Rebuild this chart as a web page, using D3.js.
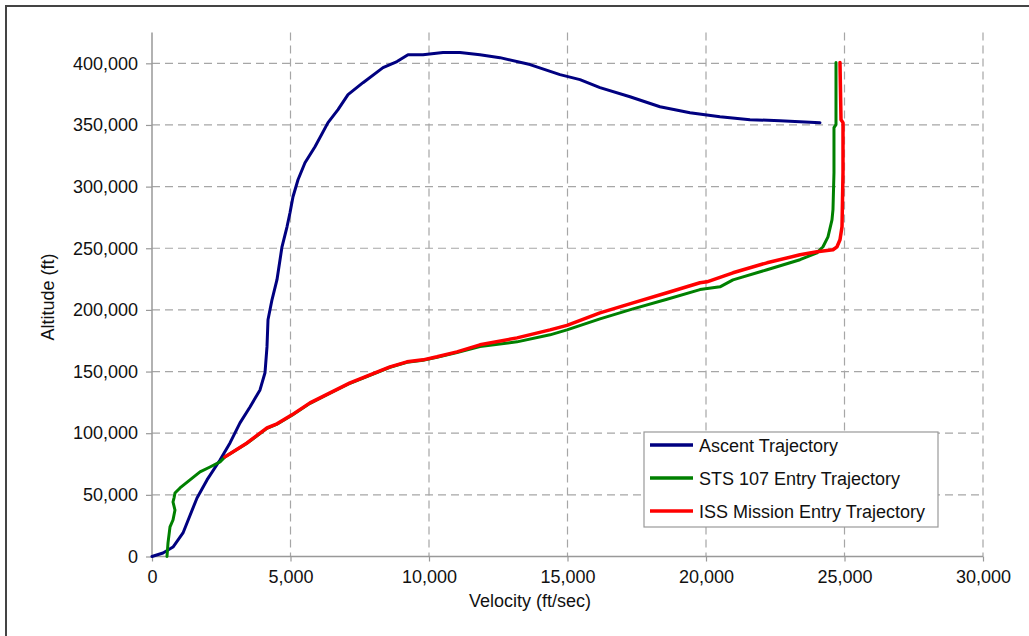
<!DOCTYPE html>
<html>
<head>
<meta charset="utf-8">
<script src="https://cdn.jsdelivr.net/npm/d3@7"></script>
<style>
  html, body { margin: 0; padding: 0; background: #fff; }
  svg { display: block; font-family: "Liberation Sans", Arial, sans-serif; }
</style>
</head>
<body>
<svg id="chart" width="1029" height="636"></svg>
<script>
// ---- data (velocity ft/sec, altitude ft) ----
const seriesNames = ["Ascent Trajectory", "STS 107 Entry Trajectory", "ISS Mission Entry Trajectory"];
const seriesColors = ["#000080", "#008000", "#ff0000"];

const ascent = [
  [0,0],[397,2840],[758,7700],[1119,19100],[1625,47500],[1986,62100],[2455,78300],
  [2816,92100],[3177,108400],[3538,121300],[3899,135100],[4079,149000],[4151,170000],
  [4188,192000],[4332,208200],[4512,224500],[4693,251200],[4874,267400],[4982,278800],
  [5090,291800],[5271,305600],[5523,319400],[5884,332400],[6354,351900],[6715,362400],
  [7076,374600],[7617,384300],[8339,396500],[8845,401400],[9242,407000],[9783,407000],
  [10505,408700],[11119,408700],[11840,407000],[12563,404600],[13646,399000],
  [14729,390800],[15451,386800],[16173,380300],[17256,372900],[18339,364800],
  [19422,359900],[20505,356700],[21588,354300],[22671,353400],[24115,351800]
];

const sts107 = [
  [541,0],[578,11000],[650,24000],[758,29600],[830,37700],[758,44200],[800,48000],
  [830,51500],[1011,55600],[1372,62100],[1733,68600],[2094,72600],[2455,76700],
  [2635,80800],[3430,91800],[4151,103900],[4512,107300],[5054,114500],[5704,124200],
  [6426,132400],[7148,140500],[7870,147000],[8592,153500],[9206,157600],[9783,159200],
  [10288,161600],[11010,165500],[11840,170300],[13177,174100],[14368,179800],
  [14982,183800],[16173,192700],[17365,200800],[18592,208600],[19783,216500],
  [20505,218700],[20974,224400],[22202,232600],[23393,240700],[24007,246300],
  [24224,251200],[24404,259300],[24548,273100],[24584,281300],[24620,311300],
  [24620,347800],[24693,350300],[24693,400600]
];

const issEntry = [
  [2635,80800],[3430,92100],[4151,104300],[4512,107600],[5054,114900],[5704,124600],
  [6426,132700],[7148,140800],[7870,147300],[8592,153800],[9206,157900],[9783,159500],
  [10288,162000],[11010,166000],[11840,171700],[13177,177300],[14368,183800],
  [14982,187500],[16173,197600],[17365,205700],[18592,213900],[19783,222000],
  [20036,222800],[20974,230100],[22202,238200],[23393,244700],[24007,247200],
  [24584,248800],[24729,251200],[24837,256900],[24910,267400],[24946,311300],
  [24946,351900],[24874,354300],[24837,400600]
];

const xTicks = [0, 5000, 10000, 15000, 20000, 25000, 30000];
const yTicks = [0, 50000, 100000, 150000, 200000, 250000, 300000, 350000, 400000];
const xTitle = "Velocity (ft/sec)";
const yTitle = "Altitude (ft)";

// ---- drawing ----
const svg = d3.select("#chart");
const fmt = d3.format(",");

const x = d3.scaleLinear().domain([0, 30000]).range([152, 983]);
const y = d3.scaleLinear().domain([0, 425000]).range([556.5, 32.5]);

// outer frame
svg.append("rect")
  .attr("x", 6).attr("y", 6).attr("width", 1100).attr("height", 700)
  .attr("fill", "none").attr("stroke", "#444").attr("stroke-width", 2);

const grid = svg.append("g");
// horizontal dashed gridlines
grid.selectAll("line.h").data(yTicks.filter(d => d > 0)).join("line")
  .attr("x1", x(0)).attr("x2", x(30000))
  .attr("y1", d => y(d)).attr("y2", d => y(d))
  .attr("stroke", "#a6a6a6").attr("stroke-width", 1.2).attr("stroke-dasharray", "8,5");
// vertical dashed gridlines
grid.selectAll("line.v").data(xTicks.filter(d => d > 0)).join("line")
  .attr("x1", d => x(d)).attr("x2", d => x(d))
  .attr("y1", y(425000)).attr("y2", y(0))
  .attr("stroke", "#a6a6a6").attr("stroke-width", 1.2).attr("stroke-dasharray", "8,5");

// axes
const xAxis = d3.axisBottom(x).tickValues(xTicks).tickFormat(fmt).tickSize(5).tickPadding(9);
const yAxis = d3.axisLeft(y).tickValues(yTicks).tickFormat(fmt).tickSize(6).tickPadding(8);

const gx = svg.append("g").attr("transform", `translate(0,${y(0)})`).call(xAxis);
const gy = svg.append("g").attr("transform", `translate(${x(0)},0)`).call(yAxis);
gy.select(".domain").attr("d", `M0,${y(425000)}V${y(0)}`);
gx.select(".domain").attr("d", `M${x(0)},0H${x(30000)}`);
[gx, gy].forEach(g => {
  g.select(".domain").attr("stroke", "#999").attr("stroke-width", 1.5);
  g.selectAll(".tick line").attr("stroke", "#999").attr("stroke-width", 1.2);
  g.selectAll(".tick text").attr("fill", "#111").style("font-size", "18px")
    .style("font-family", "'Liberation Sans', Arial, sans-serif");
});

// axis titles
svg.append("text").attr("x", 530).attr("y", 607).attr("text-anchor", "middle")
  .attr("fill", "#111").style("font-size", "18px").text(xTitle);
svg.append("text").attr("transform", "translate(54,297) rotate(-90)").attr("text-anchor", "middle")
  .attr("fill", "#111").style("font-size", "18px").text(yTitle);

// lines
const line = d3.line().x(d => x(d[0])).y(d => y(d[1]));
const allSeries = [ascent, sts107, issEntry];
const widths = [3, 3, 3.5];
svg.append("g").selectAll("path").data(allSeries).join("path")
  .attr("d", line)
  .attr("fill", "none")
  .attr("stroke", (d, i) => seriesColors[i])
  .attr("stroke-width", (d, i) => widths[i])
  .attr("stroke-linejoin", "round")
  .attr("stroke-linecap", "round");

// legend
const lg = svg.append("g");
lg.append("rect").attr("x", 644).attr("y", 432).attr("width", 294).attr("height", 95)
  .attr("fill", "#fff").attr("stroke", "#999").attr("stroke-width", 1.2);
const rowsY = [445, 478, 511];
seriesNames.forEach((name, i) => {
  lg.append("line").attr("x1", 650).attr("x2", 693).attr("y1", rowsY[i]).attr("y2", rowsY[i])
    .attr("stroke", seriesColors[i]).attr("stroke-width", 3.5);
  lg.append("text").attr("x", 699).attr("y", rowsY[i] + 6.5)
    .attr("fill", "#111").style("font-size", "18px").text(name);
});
</script>
</body>
</html>
